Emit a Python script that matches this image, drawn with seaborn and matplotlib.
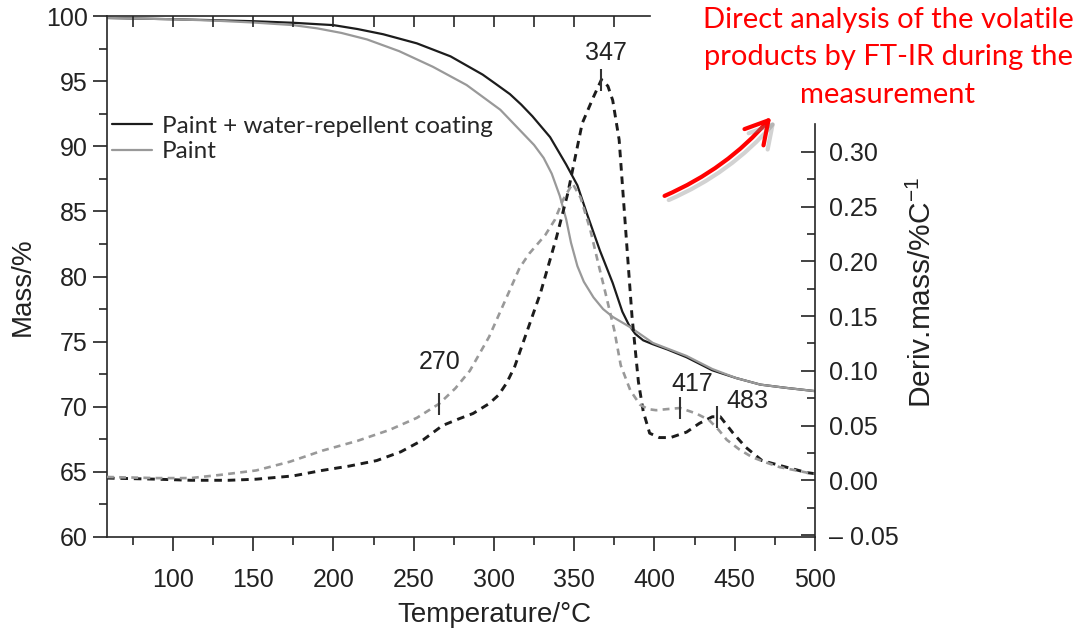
import numpy as np
import matplotlib
matplotlib.use("Agg")
import matplotlib.pyplot as plt
import matplotlib.patheffects as pe
from matplotlib.patches import FancyArrowPatch
from matplotlib.ticker import MultipleLocator, FixedLocator
import seaborn as sns

# Mass loss (TG) curves, left axis
temp_coat = [59, 100, 125, 150, 175, 200, 215, 231, 252, 273, 293, 301, 310, 317, 324, 335,
             345, 352, 358, 366, 374, 380, 384, 388, 393, 399, 408, 420, 436, 451, 466, 482,
             500]
mass_coat = [99.85, 99.75, 99.68, 99.6, 99.48, 99.3, 99.0, 98.6, 97.9, 96.9, 95.5, 94.8, 94.0,
             93.2, 92.3, 90.7, 88.6, 87.0, 84.8, 82.0, 79.5, 77.3, 76.3, 75.6, 75.1, 74.8,
             74.4, 73.8, 72.8, 72.2, 71.7, 71.45, 71.2]

temp_paint = [59, 100, 125, 150, 175, 190, 205, 221, 241, 262, 283, 304, 318, 325, 331, 336,
              341, 345, 348, 352, 356, 362, 368, 374, 385, 399, 420, 436, 451, 466, 482, 500]
mass_paint = [99.85, 99.75, 99.65, 99.5, 99.3, 99.05, 98.7, 98.2, 97.3, 96.1, 94.7, 92.8, 91.0,
              90.1, 89.1, 87.9, 86.2, 84.4, 82.6, 80.8, 79.6, 78.4, 77.5, 76.9, 76.1, 74.9,
              73.9, 72.9, 72.2, 71.7, 71.45, 71.2]

# Derivative (DTG) curves, right axis
temp_dcoat = [59, 90, 111, 135, 152, 175, 193, 210, 227, 242, 256, 268, 278, 287, 297, 303,
              308, 313, 318, 329, 339, 346, 355, 362, 367, 371, 374, 378, 383, 386, 390, 393,
              397, 403, 410, 420, 428, 436, 441, 449, 457, 467, 482, 495, 500]
deriv_coat = [0.002, 0.001, 0.0, 0.0, 0.001, 0.004, 0.009, 0.013, 0.018, 0.026, 0.037, 0.050,
              0.056, 0.061, 0.070, 0.078, 0.089, 0.104, 0.125, 0.171, 0.222, 0.262, 0.326,
              0.350, 0.366, 0.360, 0.347, 0.311, 0.21, 0.15, 0.09, 0.063, 0.043, 0.039, 0.039,
              0.044, 0.052, 0.058, 0.058, 0.043, 0.030, 0.018, 0.012, 0.007, 0.006]

temp_dpaint = [59, 90, 111, 130, 152, 173, 193, 215, 235, 252, 266, 276, 285, 297, 310, 316,
               322, 332, 338, 343, 349, 354, 360, 365, 369, 375, 379, 385, 391, 396, 401, 408,
               416, 426, 434, 440, 445, 453, 461, 470, 478, 495, 500]
deriv_paint = [0.003, 0.002, 0.002, 0.005, 0.009, 0.017, 0.027, 0.036, 0.046, 0.057, 0.070,
               0.084, 0.100, 0.131, 0.174, 0.194, 0.207, 0.224, 0.238, 0.256, 0.271, 0.258,
               0.229, 0.198, 0.174, 0.137, 0.105, 0.082, 0.069, 0.065, 0.064, 0.065, 0.066,
               0.061, 0.055, 0.046, 0.037, 0.028, 0.021, 0.016, 0.012, 0.007, 0.006]

# Peak marks: temperature, label, which curve, label offset (points)
peak_temps = [367, 266, 416, 439]
peak_labels = ["347", "270", "417", "483"]
peak_curve = ["coat", "paint", "paint", "coat"]
peak_offsets = [(3, 19), (0, 30), (9, 17), (22, 11)]

legend_labels = ["Paint + water-repellent coating", "Paint"]
note = "Direct analysis of the volatile\nproducts by FT-IR during the\nmeasurement"

sns.set_theme(style="ticks")
plt.rcParams["font.family"] = ["Liberation Sans", "DejaVu Sans"]
plt.rcParams["mathtext.default"] = "regular"
plt.rcParams["axes.linewidth"] = 1.2

dark = "#1c1c1c"
grey = "#999999"
txt = "#222222"
dash = (0, (2.6, 2))

fig = plt.figure(figsize=(10.76, 6.32), dpi=100)
ax = fig.add_axes([107 / 1076, 95 / 632, 708 / 1076, 521 / 632])
ax2 = ax.twinx()

sns.lineplot(x=temp_coat, y=mass_coat, ax=ax, color=dark, lw=1.6, label=legend_labels[0])
sns.lineplot(x=temp_paint, y=mass_paint, ax=ax, color=grey, lw=1.6, label=legend_labels[1])
sns.lineplot(x=temp_dcoat, y=deriv_coat, ax=ax2, color=dark, lw=2.1, linestyle=dash,
             legend=False)
sns.lineplot(x=temp_dpaint, y=deriv_paint, ax=ax2, color=grey, lw=1.9, linestyle=dash,
             legend=False)

ax.set_xlim(59, 500)
ax.set_ylim(60, 100)
ax2.set_ylim(-0.0518, 0.424)

ax.set_xticks(np.arange(100, 501, 50))
ax.xaxis.set_minor_locator(MultipleLocator(25))
ax.yaxis.set_major_locator(MultipleLocator(5))
ax.yaxis.set_minor_locator(MultipleLocator(2.5))
ax.tick_params(axis="both", which="major", direction="out", length=10, width=1.2,
               labelsize=18, colors=txt)
ax.tick_params(axis="x", which="major", pad=12)
ax.tick_params(axis="y", which="major", pad=4)
ax.tick_params(axis="both", which="minor", direction="out", length=6, width=1.2)
ax.tick_params(top=False, right=False, which="both")

rticks = np.arange(-0.05, 0.301, 0.05)
ax2.set_yticks(rticks)
ax2.set_yticklabels([f"{v:.2f}".replace("-", "\u2013 ") for v in rticks])
ax2.yaxis.set_minor_locator(FixedLocator(np.arange(-0.025, 0.3, 0.05)))
ax2.tick_params(axis="y", which="major", direction="in", length=10, width=1.2,
                labelsize=18, colors=txt, pad=10)
ax2.tick_params(axis="y", which="minor", direction="in", length=6, width=1.2)

for s in ["top", "right"]:
    ax.spines[s].set_visible(False)
for s in ["top", "left", "bottom"]:
    ax2.spines[s].set_visible(False)
ax2.spines["right"].set_bounds(-0.0518, 0.325)

# top frame only runs up to the note
ax3 = ax.twiny()
ax3.set_xlim(ax.get_xlim())
ax3.set_xticks(np.arange(75, 398, 25))
ax3.set_xticklabels([])
ax3.tick_params(axis="x", direction="in", length=8, width=1.2)
for s in ["left", "right", "bottom"]:
    ax3.spines[s].set_visible(False)
ax3.spines["top"].set_bounds(59, 397)

ax.set_xlabel("Temperature/\u00b0C", fontsize=20, color=txt)
ax.xaxis.set_label_coords(0.547, -0.125)
ax.set_ylabel("Mass/%", fontsize=20, color=txt)
ax.yaxis.set_label_coords(-0.101, 0.48)
ax2.set_ylabel("Deriv.mass/%C$^{\u22121}$", fontsize=21.5, color=txt)
ax2.yaxis.set_label_coords(1.131, 0.47)

# peak markers and labels
curves = {"coat": (temp_dcoat, deriv_coat), "paint": (temp_dpaint, deriv_paint)}
for t, lab, c, off in zip(peak_temps, peak_labels, peak_curve, peak_offsets):
    tx, ty = curves[c]
    v = np.interp(t, tx, ty)
    ax2.plot([t], [v], marker="|", markersize=16, mew=1.5, color="#333333")
    ax2.annotate(lab, (t, v), xytext=off, textcoords="offset points",
                 ha="center", va="center", fontsize=18, color=txt)

ax.legend(loc="upper left", bbox_to_anchor=(-0.0136, 0.837), frameon=False,
          prop={"family": "Lato", "size": 17.5}, handlelength=1.65, handletextpad=0.41,
          labelspacing=0.2, borderaxespad=0.2)

fig.text(888 / 1076, 1 - 57.5 / 632, note, ha="center", va="center", color="red",
         family="Lato", fontsize=21, linespacing=1.55)

arrow = FancyArrowPatch((662 / 1076, 1 - 197 / 632), (773 / 1076, 1 - 115 / 632),
                        transform=fig.transFigure, connectionstyle="arc3,rad=0.12",
                        arrowstyle="->,head_length=0.8,head_width=0.45", mutation_scale=20,
                        color="red", lw=3,
                        path_effects=[pe.SimpleLineShadow(offset=(3, -3),
                                                          shadow_color="gray", alpha=0.35),
                                      pe.Normal()])
fig.patches.append(arrow)

fig.savefig("out.png", dpi=100)
